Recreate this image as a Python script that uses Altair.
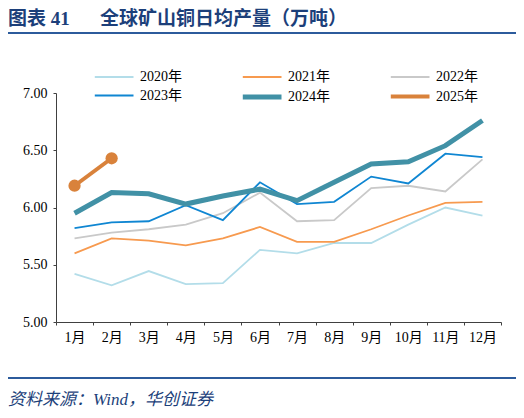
import pandas as pd
import altair as alt

# data
months = ["1月", "2月", "3月", "4月", "5月", "6月", "7月", "8月", "9月", "10月", "11月", "12月"]
years = ["2020年", "2021年", "2022年", "2023年", "2024年", "2025年"]
v2020 = [5.42, 5.32, 5.445, 5.33, 5.34, 5.63, 5.60, 5.69, 5.69, 5.85, 6.00, 5.93]
v2021 = [5.60, 5.73, 5.71, 5.67, 5.73, 5.83, 5.70, 5.70, 5.81, 5.93, 6.04, 6.05]
v2022 = [5.73, 5.78, 5.81, 5.85, 5.95, 6.13, 5.88, 5.89, 6.17, 6.19, 6.14, 6.42]
v2023 = [5.82, 5.87, 5.88, 6.02, 5.89, 6.22, 6.03, 6.05, 6.27, 6.21, 6.47, 6.44]
v2024 = [5.95, 6.13, 6.12, 6.03, 6.10, 6.16, 6.06, 6.22, 6.38, 6.40, 6.54, 6.76]
v2025 = [6.19, 6.43]
y_ticks = [5.0, 5.5, 6.0, 6.5, 7.0]

title_left = "图表 41"
title_right = "全球矿山铜日均产量（万吨）"
source = "资料来源：Wind，华创证券"

colors = ["#b3dde9", "#f79a4f", "#c9c9c9", "#0f86d2", "#4191a6", "#d9823b"]
widths = [1.8, 1.8, 1.8, 1.8, 5, 4]

rows = []
for yr, vals in zip(years, [v2020, v2021, v2022, v2023, v2024, v2025]):
    for m, v in zip(months, vals):
        rows.append({"month": m, "year": yr, "value": v})
df = pd.DataFrame(rows)

serif = "Liberation Serif, Noto Sans CJK SC"
blue = "#1c3f7a"

legend = alt.Legend(title=None, orient="none", legendX=61, legendY=-26.5,
                    direction="horizontal", columns=3, columnPadding=50,
                    rowPadding=0, padding=0, gridAlign="all",
                    symbolType="M-4.53,0L1,0", symbolSize=196,
                    labelFont=serif, labelFontSize=14, labelColor="#000",
                    labelOffset=4)

x_enc = alt.X("month:N", sort=months, bandPosition=0.5, title=None,
              scale=alt.Scale(type="band", paddingInner=0, paddingOuter=0),
              axis=alt.Axis(tickBand="extent", labelAngle=0, tickSize=3,
                            labelPadding=5, grid=False))
y_enc = alt.Y("value:Q", title=None,
              scale=alt.Scale(domain=[5, 7], nice=False, zero=False),
              axis=alt.Axis(values=y_ticks, format=".2f", tickSize=3,
                            labelPadding=6, grid=False))

lines = alt.Chart(df).mark_line().encode(
    x=x_enc,
    y=y_enc,
    color=alt.Color("year:N", sort=years,
                    scale=alt.Scale(domain=years, range=colors), legend=legend),
    strokeWidth=alt.StrokeWidth("year:N", sort=years,
                                scale=alt.Scale(type="ordinal", domain=years, range=widths),
                                legend=legend),
)

dots = alt.Chart(df).transform_filter(
    alt.datum.year == "2025年"
).mark_point(filled=True, size=150, opacity=1, color="#d9823b").encode(
    x=alt.X("month:N", sort=months, bandPosition=0.5),
    y="value:Q",
)

one = pd.DataFrame({"t": [title_left, title_right, source]})

t1 = alt.Chart(one).transform_filter(alt.datum.t == title_left).mark_text(
    align="left", baseline="middle", font=serif, fontSize=19,
    fontWeight="bold", color=blue
).encode(text="t:N", x=alt.value(-48), y=alt.value(-74))

t2 = alt.Chart(one).transform_filter(alt.datum.t == title_right).mark_text(
    align="left", baseline="middle", font=serif, fontSize=19,
    fontWeight="bold", color=blue
).encode(text="t:N", x=alt.value(44), y=alt.value(-74))

src = alt.Chart(one).transform_filter(alt.datum.t == source).mark_text(
    align="left", baseline="middle", font=serif, fontSize=17,
    fontStyle="italic", color=blue
).encode(text="t:N", x=alt.value(-48), y=alt.value(307))

rule_top = alt.Chart(one).transform_filter(alt.datum.t == source).mark_rule(
    color="#2c5b9c", strokeWidth=2
).encode(x=alt.value(-48), x2=alt.value(461), y=alt.value(-60))

rule_bot = alt.Chart(one).transform_filter(alt.datum.t == source).mark_rule(
    color="#2c5b9c", strokeWidth=2
).encode(x=alt.value(-48), x2=alt.value(461), y=alt.value(285))

chart = alt.layer(lines, dots, t1, t2, src, rule_top, rule_bot).properties(
    width=445, height=229,
    autosize=alt.AutoSizeParams(type="none"),
    padding={"left": 48, "top": 85, "right": 15, "bottom": 88},
).configure_view(stroke=None).configure_axis(
    domainColor="#404040", tickColor="#404040", labelColor="#000",
    labelFont=serif, labelFontSize=14
)

chart.save("out.html", embed_options={"renderer": "svg", "actions": False})
